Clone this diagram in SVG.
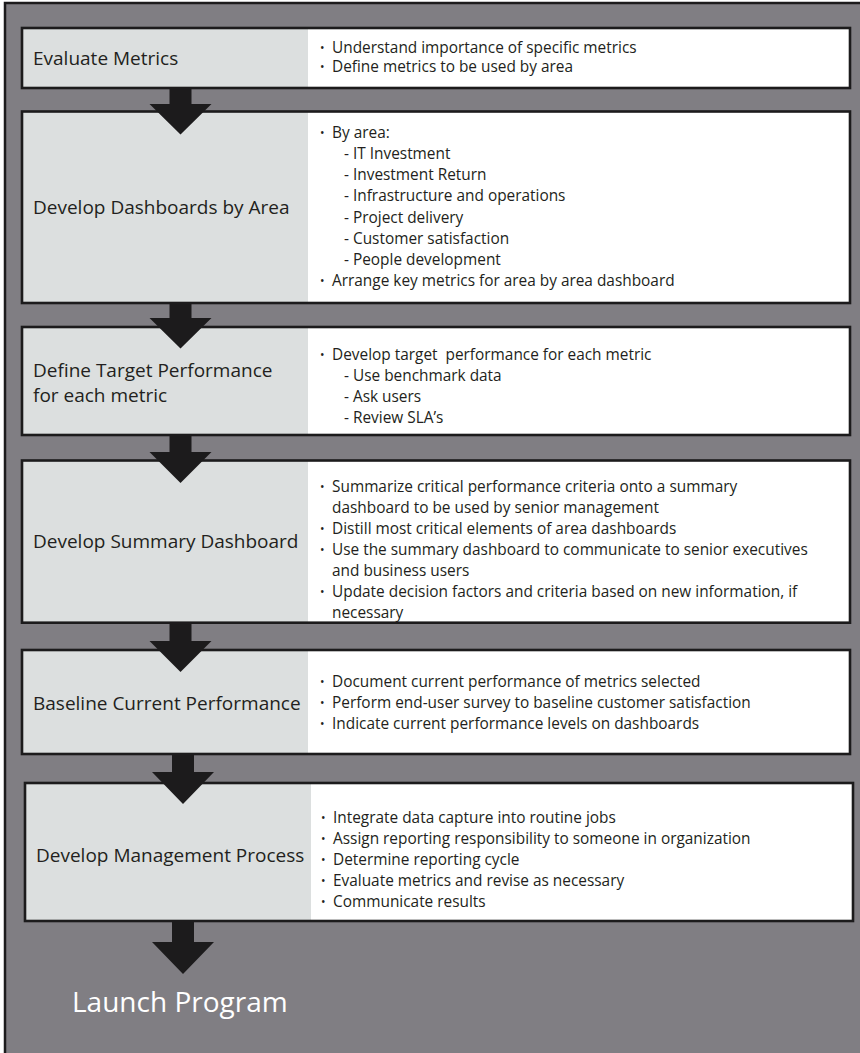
<svg xmlns="http://www.w3.org/2000/svg" width="860" height="1053" viewBox="0 0 860 1053">
  <defs>
    <style>
      .frame { fill: #807e83; stroke: #1c1b1c; stroke-width: 2.5; }
      .box { fill: #ffffff; }
      .panel { fill: #dcdfdf; }
      .edge { fill: none; stroke: #1c1b1c; stroke-width: 2.6; }
      .title { font-family: "Open Sans", "Noto Sans", sans-serif; font-size: 19px; fill: #231f20; }
      .item { font-family: "Open Sans", "Noto Sans", sans-serif; font-size: 15.4px; fill: #231f20; }
      .dot { font-family: "Open Sans", "Noto Sans", sans-serif; font-size: 12px; fill: #231f20; }
      .arrow { fill: #1c1b1c; }
      .launch { font-family: "Open Sans", "Noto Sans", sans-serif; font-size: 28px; fill: #ffffff; }
    </style>
  </defs>

  <rect x="0" y="0" width="860" height="1053" fill="#ffffff"/>
  <rect class="frame" x="5" y="3" width="880" height="1080"/>

  <!-- Step 1 -->
  <g id="evaluate-metrics">
    <rect class="box" x="22" y="28" width="828" height="60"/>
    <rect class="panel" x="22" y="28" width="286" height="60"/>
    <rect class="edge" x="22" y="28" width="828" height="60"/>
    <text class="title" x="33" y="65">Evaluate Metrics</text>
    <text class="dot" x="320" y="52">•</text>
    <text class="item" x="332" y="53">Understand importance of specific metrics</text>
    <text class="dot" x="320" y="71">•</text>
    <text class="item" x="332" y="72">Define metrics to be used by area</text>
  </g>

  <!-- Step 2 -->
  <g id="develop-dashboards">
    <rect class="box" x="22" y="111.5" width="828" height="191.5"/>
    <rect class="panel" x="22" y="111.5" width="286" height="191.5"/>
    <rect class="edge" x="22" y="111.5" width="828" height="191.5"/>
    <text class="title" x="33" y="214">Develop Dashboards by Area</text>
    <text class="dot" x="320" y="136.7">•</text>
    <text class="item" x="332" y="137.7">By area:</text>
    <text class="item" x="344" y="158.9">- IT Investment</text>
    <text class="item" x="344" y="180.1">- Investment Return</text>
    <text class="item" x="344" y="201.3">- Infrastructure and operations</text>
    <text class="item" x="344" y="222.5">- Project delivery</text>
    <text class="item" x="344" y="243.7">- Customer satisfaction</text>
    <text class="item" x="344" y="264.9">- People development</text>
    <text class="dot" x="320" y="285.1">•</text>
    <text class="item" x="332" y="286.1">Arrange key metrics for area by area dashboard</text>
  </g>

  <!-- Step 3 -->
  <g id="define-target">
    <rect class="box" x="22" y="327" width="828" height="108"/>
    <rect class="panel" x="22" y="327" width="286" height="108"/>
    <rect class="edge" x="22" y="327" width="828" height="108"/>
    <text class="title" x="33" y="377">Define Target Performance</text>
    <text class="title" x="33" y="402">for each metric</text>
    <text class="dot" x="320" y="359">•</text>
    <text class="item" x="332" y="360" xml:space="preserve">Develop target  performance for each metric</text>
    <text class="item" x="344" y="381">- Use benchmark data</text>
    <text class="item" x="344" y="402">- Ask users</text>
    <text class="item" x="344" y="423">- Review SLA’s</text>
  </g>

  <!-- Step 4 -->
  <g id="summary-dashboard">
    <rect class="box" x="22" y="460.5" width="828" height="162.2"/>
    <rect class="panel" x="22" y="460.5" width="286" height="162.2"/>
    <rect class="edge" x="22" y="460.5" width="828" height="162.2"/>
    <text class="title" x="33" y="548">Develop Summary Dashboard</text>
    <text class="dot" x="320" y="490.5">•</text>
    <text class="item" x="332" y="491.5">Summarize critical performance criteria onto a summary</text>
    <text class="item" x="332" y="512.5">dashboard to be used by senior management</text>
    <text class="dot" x="320" y="532.8">•</text>
    <text class="item" x="332" y="533.8">Distill most critical elements of area dashboards</text>
    <text class="dot" x="320" y="554">•</text>
    <text class="item" x="332" y="555">Use the summary dashboard to communicate to senior executives</text>
    <text class="item" x="332" y="576">and business users</text>
    <text class="dot" x="320" y="596">•</text>
    <text class="item" x="332" y="597">Update decision factors and criteria based on new information, if</text>
    <text class="item" x="332" y="618">necessary</text>
  </g>

  <!-- Step 5 -->
  <g id="baseline-performance">
    <rect class="box" x="22" y="650" width="828" height="104"/>
    <rect class="panel" x="22" y="650" width="286" height="104"/>
    <rect class="edge" x="22" y="650" width="828" height="104"/>
    <text class="title" x="33" y="709.5">Baseline Current Performance</text>
    <text class="dot" x="320" y="686">•</text>
    <text class="item" x="332" y="687">Document current performance of metrics selected</text>
    <text class="dot" x="320" y="707">•</text>
    <text class="item" x="332" y="708">Perform end-user survey to baseline customer satisfaction</text>
    <text class="dot" x="320" y="728">•</text>
    <text class="item" x="332" y="729">Indicate current performance levels on dashboards</text>
  </g>

  <!-- Step 6 -->
  <g id="management-process">
    <rect class="box" x="25" y="783" width="828" height="138"/>
    <rect class="panel" x="25" y="783" width="286" height="138"/>
    <rect class="edge" x="25" y="783" width="828" height="138"/>
    <text class="title" x="36" y="862">Develop Management Process</text>
    <text class="dot" x="321" y="822">•</text>
    <text class="item" x="333" y="823">Integrate data capture into routine jobs</text>
    <text class="dot" x="321" y="843">•</text>
    <text class="item" x="333" y="844">Assign reporting responsibility to someone in organization</text>
    <text class="dot" x="321" y="864">•</text>
    <text class="item" x="333" y="865">Determine reporting cycle</text>
    <text class="dot" x="321" y="885">•</text>
    <text class="item" x="333" y="886">Evaluate metrics and revise as necessary</text>
    <text class="dot" x="321" y="906">•</text>
    <text class="item" x="333" y="907">Communicate results</text>
  </g>

  <!-- Final step label -->
  <g id="launch-program">
    <text class="launch" x="72" y="1012">Launch Program</text>
  </g>

  <!-- Block arrows between steps -->
  <g id="connectors">
    <polygon class="arrow" points="169.5,88 191.5,88 191.5,104 211.5,104 180.5,134.5 149.5,104 169.5,104"/>
    <polygon class="arrow" points="169.5,303 191.5,303 191.5,318 211.5,318 180.5,348.5 149.5,318 169.5,318"/>
    <polygon class="arrow" points="169.5,435 191.5,435 191.5,452 211.5,452 180.5,483 149.5,452 169.5,452"/>
    <polygon class="arrow" points="169.5,622.7 191.5,622.7 191.5,641 211.5,641 180.5,672 149.5,641 169.5,641"/>
    <polygon class="arrow" points="172,754 194,754 194,772 214,772 183,804 152,772 172,772"/>
    <polygon class="arrow" points="172,921 194,921 194,942 214,942 183,974 152,942 172,942"/>
  </g>
</svg>
